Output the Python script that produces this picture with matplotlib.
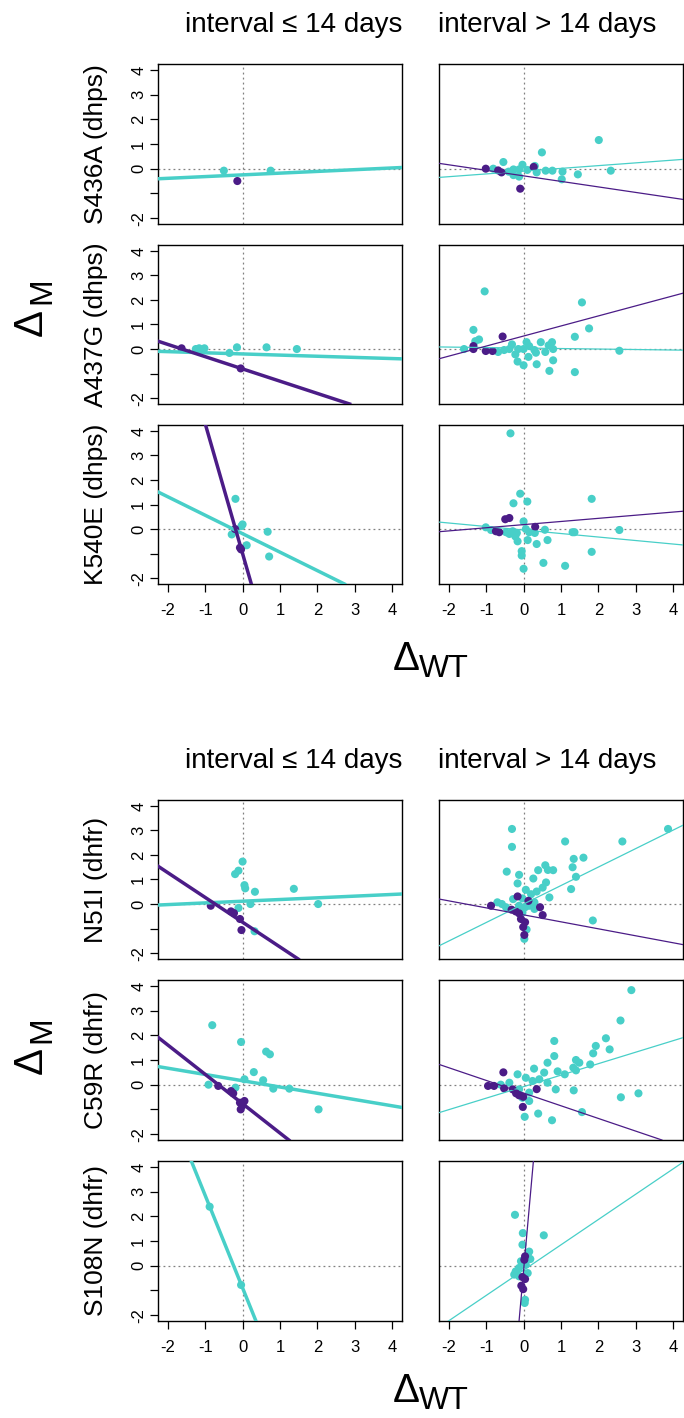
import matplotlib
matplotlib.use('Agg')
import matplotlib.pyplot as plt

plt.rcParams['font.family'] = ['Liberation Sans', 'DejaVu Sans']

# ---------------- data ----------------
row_labels = ["S436A (dhps)", "A437G (dhps)", "K540E (dhps)",
              "N51I (dhfr)", "C59R (dhfr)", "S108N (dhfr)"]
col_titles = ["interval \u2264 14 days", "interval > 14 days"]
x_ticks = [-2, -1, 0, 1, 2, 3, 4]
x_tick_labels = ["-2", "-1", "0", "1", "2", "3", "4"]
y_ticks = [-2, -1, 0, 1, 2, 3, 4]
y_tick_labels = ["-2", "", "0", "1", "2", "3", "4"]

# S436A, interval <= 14
s436a_le_tx = [-0.50, 0.75]
s436a_le_ty = [-0.08, -0.08]
s436a_le_px = [-0.14]
s436a_le_py = [-0.50]
s436a_le_tline = (-0.25, 0.07)
s436a_le_pline = None
# S436A, interval > 14
s436a_gt_tx = [2.01, 0.49, -0.54, -0.03, -0.81, -0.27, -0.27, -0.12, -0.40, 0.10,
               0.30, 0.35, 0.59, 0.77, 1.04, 1.02, 1.45, 2.33, -0.12]
s436a_gt_ty = [1.16, 0.66, 0.27, 0.16, 0.00, -0.03, -0.26, -0.32, -0.12, -0.05,
               0.11, -0.15, -0.08, -0.08, -0.12, -0.43, -0.23, -0.08, -0.03]
s436a_gt_px = [-1.01, -0.68, -0.59, -0.09, 0.27]
s436a_gt_py = [0.00, -0.07, -0.15, -0.81, 0.07]
s436a_gt_tline = (-0.10, 0.112)
s436a_gt_pline = (-0.29, -0.224)

# A437G, interval <= 14
a437g_le_tx = [-1.25, -1.16, -1.02, -0.35, -0.15, 0.64, 1.45]
a437g_le_ty = [0.00, 0.03, 0.03, -0.16, 0.07, 0.07, 0.00]
a437g_le_px = [-1.63, -0.05]
a437g_le_py = [0.03, -0.79]
a437g_le_tline = (-0.20, -0.047)
a437g_le_pline = (-0.81, -0.50)
# A437G, interval > 14
a437g_gt_tx = [-1.04, 1.56, -1.34, 1.75, 1.37, -1.29, -1.19, -1.59, -0.31, 0.08,
               0.15, 0.46, 0.76, 0.67, -0.68, -0.52, -0.38, -0.22, -0.14, 0.00,
               0.29, 0.33, 0.58, 0.79, 0.13, -0.16, 0.00, 0.35, 0.79, 0.69, 1.37, 2.56]
a437g_gt_ty = [2.35, 1.90, 0.78, 0.84, 0.50, 0.32, 0.39, 0.00, 0.19, 0.28,
               0.12, 0.28, 0.28, 0.15, -0.12, -0.04, 0.00, -0.22, 0.00, 0.00,
               -0.04, -0.15, -0.12, 0.00, -0.32, -0.51, -0.66, -0.62, -0.46, -0.89, -0.94, -0.07]
a437g_gt_px = [-0.56, -1.34, -1.34, -1.01, -0.83]
a437g_gt_py = [0.51, 0.12, 0.00, -0.08, -0.08]
a437g_gt_tline = (0.04, -0.02)
a437g_gt_pline = (0.53, 0.41)

# K540E, interval <= 14
k540e_le_tx = [-0.19, 0.00, -0.03, -0.29, 0.67, 0.11, 0.71]
k540e_le_ty = [1.23, 0.19, 0.12, -0.22, -0.11, -0.66, -1.12]
k540e_le_px = [-0.20, -0.07, -0.04]
k540e_le_py = [0.00, -0.76, -0.83]
k540e_le_tline = (-0.19, -0.753)
k540e_le_pline = (-1.00, -5.30)
# K540E, interval > 14
k540e_gt_tx = [-0.35, -0.09, 0.10, -0.27, 1.82, 0.00, -1.01, -0.87, -0.47, -0.38,
               -0.29, -0.18, -0.22, -0.16, 0.06, 0.15, 0.30, 0.57, 0.64, 0.35,
               0.11, 1.31, 1.36, 2.56, -0.05, -0.05, 0.53, 1.11, 1.82, 0.00]
k540e_gt_ty = [3.90, 1.44, 1.12, 1.05, 1.23, 0.31, 0.07, -0.04, -0.13, -0.20,
               -0.09, -0.16, -0.30, -0.50, 0.00, -0.13, -0.16, -0.03, -0.45, -0.61,
               -0.45, -0.13, -0.13, -0.04, -0.90, -1.08, -1.38, -1.50, -0.93, -1.62]
k540e_gt_px = [-0.49, -0.38, -0.74, -0.65, 0.31]
k540e_gt_py = [0.40, 0.45, -0.09, -0.13, 0.09]
k540e_gt_tline = (-0.04, -0.143)
k540e_gt_pline = (0.18, 0.128)

# N51I, interval <= 14
n51i_le_tx = [0.00, -0.20, -0.11, 0.05, 0.07, 0.33, 1.37, 0.21, 2.02, -0.11, 0.32]
n51i_le_ty = [1.73, 1.22, 1.36, 0.77, 0.64, 0.50, 0.62, 0.00, 0.00, -0.16, -1.11]
n51i_le_px = [-0.85, -0.31, -0.23, -0.07, -0.03]
n51i_le_py = [-0.07, -0.30, -0.37, -0.61, -1.06]
n51i_le_tline = (0.115, 0.069)
n51i_le_pline = (-0.74, -1.01)
# N51I, interval > 14
n51i_gt_tx = [-0.31, -0.31, 1.11, 2.64, 3.86, 1.34, 1.60, 1.31, 1.40, 1.27,
              1.85, -0.45, -0.12, 0.39, 0.58, 0.65, 0.79, 0.26, -0.16, 0.60,
              0.51, 0.69, 0.35, 0.06, 0.20, -0.03, -0.28, -0.70, -0.58, -0.47,
              -0.12, 0.04, 0.15, 0.29, -0.03, 0.08, 0.02, 0.29]
n51i_gt_ty = [3.06, 2.33, 2.55, 2.55, 3.06, 1.84, 1.89, 1.50, 1.11, 0.61,
              -0.67, 1.32, 1.19, 1.38, 1.58, 1.39, 1.38, 1.04, 0.84, 0.88,
              0.67, 0.27, 0.51, 0.58, 0.40, 0.23, 0.20, 0.07, 0.00, -0.13,
              -0.07, -0.13, -0.07, -0.20, -0.34, -1.04, -1.42, 0.07]
n51i_gt_px = [-0.87, -0.16, 0.13, -0.32, -0.21, -0.12, 0.44, 0.51, 0.04, -0.01, 0.02, -0.07]
n51i_gt_py = [-0.07, 0.31, 0.13, -0.23, -0.30, -0.38, -0.13, -0.45, -0.74, -0.94, -1.26, -0.61]
n51i_gt_tline = (0.00, 0.754)
n51i_gt_pline = (-0.44, -0.285)

# C59R, interval <= 14
c59r_le_tx = [-0.81, -0.04, 0.63, 0.73, 0.30, 0.05, 0.55, -0.91, 0.82, 1.25, 2.03, -0.19]
c59r_le_ty = [2.41, 1.73, 1.34, 1.23, 0.51, 0.22, 0.18, 0.00, -0.16, -0.16, -1.00, -0.12]
c59r_le_px = [-0.65, -0.31, -0.25, -0.07, 0.05, -0.05, 0.00]
c59r_le_py = [-0.05, -0.26, -0.35, -0.73, -0.66, -1.00, -0.84]
c59r_le_tline = (0.16, -0.254)
c59r_le_pline = (-0.77, -1.19)
# C59R, interval > 14
c59r_gt_tx = [2.88, 2.59, 2.20, 2.30, 1.93, 1.86, 1.78, 1.40, 1.49, 1.33,
              1.40, 0.82, 0.82, 0.64, 0.28, 0.91, 1.10, 0.55, 0.42, -0.16,
              0.06, 0.24, -0.38, -0.61, 0.86, 1.34, 2.60, 3.07, -0.12, 0.15,
              -0.03, 0.15, 0.39, 0.76, 0.03, 1.56, 0.64]
c59r_gt_ty = [3.83, 2.60, 1.88, 1.43, 1.57, 1.27, 0.82, 1.00, 0.89, 0.69,
              0.58, 1.77, 1.16, 0.89, 0.65, 0.54, 0.42, 0.49, 0.22, 0.42,
              0.28, 0.15, 0.08, 0.00, -0.19, -0.23, -0.51, -0.35, -0.19, -0.32,
              -0.53, -0.66, -1.17, -1.44, -1.30, -1.11, 0.08]
c59r_gt_px = [-0.54, -0.95, -0.79, -0.52, -0.29, -0.20, -0.12, -0.01, 0.35, -0.02]
c59r_gt_py = [0.50, -0.05, -0.05, -0.15, -0.19, -0.35, -0.43, -0.49, -0.18, -0.90]
c59r_gt_tline = (-0.08, 0.466)
c59r_gt_pline = (-0.34, -0.514)

# S108N, interval <= 14
s108n_le_tx = [-0.88, -0.04]
s108n_le_ty = [2.39, -0.78]
s108n_le_px = []
s108n_le_py = []
s108n_le_tline = (-0.90, -3.75)
s108n_le_pline = None
# S108N, interval > 14
s108n_gt_tx = [-0.23, 0.54, -0.02, -0.03, 0.15, 0.11, 0.18, -0.07, 0.06, -0.12,
               -0.21, -0.25, 0.11, -0.12, 0.04, 0.03]
s108n_gt_ty = [2.06, 1.23, 1.32, 0.85, 0.57, 0.45, 0.27, 0.18, 0.04, -0.09,
               -0.23, -0.36, -0.30, -0.43, -1.38, -1.51]
s108n_gt_px = [0.04, 0.02, -0.03, 0.04, -0.06, -0.01]
s108n_gt_py = [0.38, 0.24, -0.46, -0.54, -0.81, -0.95]
s108n_gt_tline = (-0.18, 1.026)
s108n_gt_pline = (-0.20, 16.9)

panels = [
    (0, 0, s436a_le_tx, s436a_le_ty, s436a_le_px, s436a_le_py, s436a_le_tline, s436a_le_pline),
    (0, 1, s436a_gt_tx, s436a_gt_ty, s436a_gt_px, s436a_gt_py, s436a_gt_tline, s436a_gt_pline),
    (1, 0, a437g_le_tx, a437g_le_ty, a437g_le_px, a437g_le_py, a437g_le_tline, a437g_le_pline),
    (1, 1, a437g_gt_tx, a437g_gt_ty, a437g_gt_px, a437g_gt_py, a437g_gt_tline, a437g_gt_pline),
    (2, 0, k540e_le_tx, k540e_le_ty, k540e_le_px, k540e_le_py, k540e_le_tline, k540e_le_pline),
    (2, 1, k540e_gt_tx, k540e_gt_ty, k540e_gt_px, k540e_gt_py, k540e_gt_tline, k540e_gt_pline),
    (3, 0, n51i_le_tx, n51i_le_ty, n51i_le_px, n51i_le_py, n51i_le_tline, n51i_le_pline),
    (3, 1, n51i_gt_tx, n51i_gt_ty, n51i_gt_px, n51i_gt_py, n51i_gt_tline, n51i_gt_pline),
    (4, 0, c59r_le_tx, c59r_le_ty, c59r_le_px, c59r_le_py, c59r_le_tline, c59r_le_pline),
    (4, 1, c59r_gt_tx, c59r_gt_ty, c59r_gt_px, c59r_gt_py, c59r_gt_tline, c59r_gt_pline),
    (5, 0, s108n_le_tx, s108n_le_ty, s108n_le_px, s108n_le_py, s108n_le_tline, s108n_le_pline),
    (5, 1, s108n_gt_tx, s108n_gt_ty, s108n_gt_px, s108n_gt_py, s108n_gt_tline, s108n_gt_pline),
]

# ---------------- layout ----------------
W, H = 684, 1418
fig = plt.figure(figsize=(W / 100, H / 100), dpi=100)

TEAL = '#48CFC8'
PURPLE = '#4B1C87'
GREY = '#808080'

col_x = [(158, 402), (439, 683)]
row_y = [(64, 224), (245, 404), (425, 584), (800, 959), (980, 1140), (1161, 1321)]
bottom_rows = {2, 5}

for row, col, tx, ty, px, py, tline, pline in panels:
    x0, x1 = col_x[col]
    y0, y1 = row_y[row]
    ax = fig.add_axes([x0 / W, 1 - y1 / H, (x1 - x0) / W, (y1 - y0) / H])
    ax.set_xlim(-2.26, 4.26)
    ax.set_ylim(-2.24, 4.24)
    for s in ax.spines.values():
        s.set_linewidth(1.0)
        s.set_color('black')
    ax.axhline(0, color=GREY, lw=0.9, ls=(0, (1.5, 2.5)), zorder=1)
    ax.axvline(0, color=GREY, lw=0.9, ls=(0, (1.5, 2.5)), zorder=1)
    lw = 2.5 if col == 0 else 0.9
    ax.scatter(tx, ty, s=34, color=TEAL, edgecolors='none', zorder=2)
    ax.scatter(px, py, s=34, color=PURPLE, edgecolors='none', zorder=3)
    if tline is not None:
        ax.axline((0, tline[0]), slope=tline[1], color=TEAL, lw=lw, zorder=4)
    if pline is not None:
        ax.axline((0, pline[0]), slope=pline[1], color=PURPLE, lw=lw, zorder=5)
    ax.tick_params(length=5.5, width=0.9, color='black', labelsize=12)
    if col == 0:
        ax.set_yticks(y_ticks)
        ax.set_yticklabels(y_tick_labels, rotation=90, va='center')
        ax.tick_params(axis='y', pad=3)
    else:
        ax.set_yticks([])
    if row in bottom_rows:
        ax.set_xticks(x_ticks)
        ax.set_xticklabels(x_tick_labels)
        ax.tick_params(axis='x', pad=8)
    else:
        ax.set_xticks([])
    if col == 0:
        yc = (y0 + y1) / 2
        fig.text(96 / W, 1 - yc / H, row_labels[row], rotation=90,
                 ha='center', va='center', fontsize=19)

# column titles
for base in (32, 768):
    fig.text(294 / W, 1 - base / H, col_titles[0], ha='center', va='baseline', fontsize=20)
    fig.text(547 / W, 1 - base / H, col_titles[1], ha='center', va='baseline', fontsize=20)

# axis labels (Delta_WT and Delta_M)
for base in (670, 1402):
    fig.text(406 / W, 1 - base / H, '\u0394', ha='center', va='baseline', fontsize=29)
    fig.text(444 / W, 1 - (base + 7) / H, 'WT', ha='center', va='baseline', fontsize=23)
for yc in (322, 1061):
    fig.text(42 / W, 1 - yc / H, '\u0394', rotation=90, rotation_mode='anchor',
             ha='center', va='baseline', fontsize=29)
    fig.text(50 / W, 1 - (yc - 31) / H, 'M', rotation=90, rotation_mode='anchor',
             ha='center', va='baseline', fontsize=23)

fig.savefig('out.png', dpi=100)
